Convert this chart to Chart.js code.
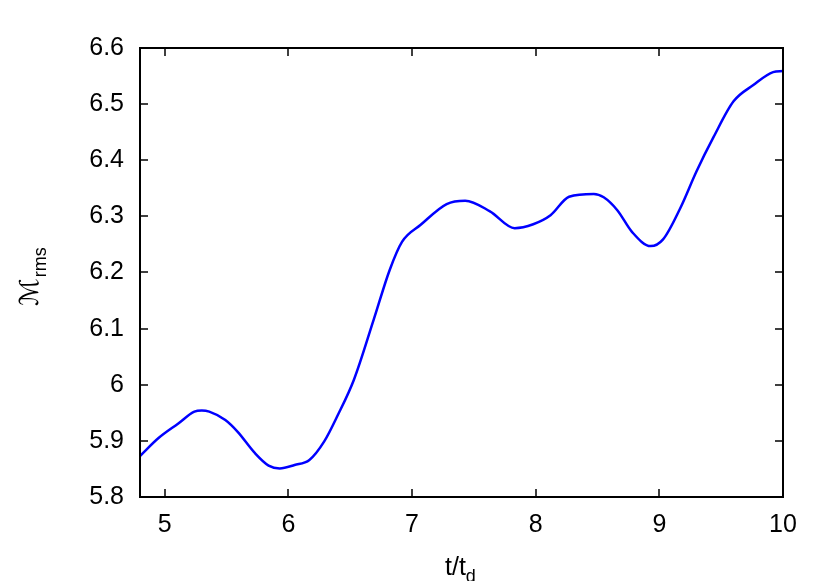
<!DOCTYPE html>
<html>
<head>
<meta charset="utf-8">
<script src="https://cdn.jsdelivr.net/npm/chart.js@4"></script>
<style>
  html, body { margin:0; padding:0; background:#fff; }
  #wrap { width:830px; height:581px; }
</style>
</head>
<body>
<div id="wrap"><canvas id="machChart" width="830" height="581"></canvas></div>
<script>
// t / t_d
const tValues = [4.80, 4.95, 5.11, 5.24, 5.30, 5.36, 5.49, 5.59, 5.73, 5.84, 5.93, 6.05, 6.17, 6.29, 6.40,
  6.53, 6.69, 6.82, 6.92, 7.07, 7.28, 7.43, 7.63, 7.83, 7.98, 8.12, 8.27, 8.47, 8.55, 8.66,
  8.78, 8.93, 9.03, 9.17, 9.30, 9.44, 9.60, 9.76, 9.92, 10.0];
// M_rms
const machRms = [5.873, 5.905, 5.931, 5.952, 5.954, 5.952, 5.937, 5.916, 5.878, 5.856, 5.851, 5.857, 5.866, 5.899, 5.946,
  6.009, 6.116, 6.205, 6.255, 6.285, 6.322, 6.328, 6.309, 6.279, 6.286, 6.302, 6.335, 6.340, 6.334, 6.311,
  6.272, 6.247, 6.259, 6.315, 6.380, 6.442, 6.505, 6.534, 6.557, 6.559];
const xTicks = [5, 6, 7, 8, 9, 10];
const yTicks = [5.8, 5.9, 6.0, 6.1, 6.2, 6.3, 6.4, 6.5, 6.6];

const FONT = "'Liberation Sans', Arial, sans-serif";

// gnuplot style frame: box + inward ticks on all four sides, plus titles with subscripts
const framePlugin = {
  id: 'frame',
  afterDraw(chart) {
    const { ctx, chartArea: a, scales } = chart;
    const len = 8;
    ctx.save();
    ctx.strokeStyle = '#000';
    ctx.lineWidth = 1.5;
    ctx.beginPath();
    xTicks.forEach(v => {
      const px = Math.round(scales.x.getPixelForValue(v));
      ctx.moveTo(px, a.bottom); ctx.lineTo(px, a.bottom - len);
      ctx.moveTo(px, a.top); ctx.lineTo(px, a.top + len);
    });
    yTicks.forEach(v => {
      const py = Math.round(scales.y.getPixelForValue(v));
      ctx.moveTo(a.left, py); ctx.lineTo(a.left + len, py);
      ctx.moveTo(a.right, py); ctx.lineTo(a.right - len, py);
    });
    ctx.stroke();
    ctx.lineWidth = 2;
    ctx.strokeRect(a.left, a.top, a.right - a.left, a.bottom - a.top);

    // x title: t/t_d
    ctx.fillStyle = '#000';
    ctx.textBaseline = 'alphabetic';
    ctx.textAlign = 'left';
    ctx.font = '25px ' + FONT;
    const xMain = 't/t';
    ctx.fillText(xMain, 445, 575);
    const w = ctx.measureText(xMain).width;
    ctx.font = '18px ' + FONT;
    ctx.fillText('d', 445 + w, 582);

    // y title: M_rms, rotated
    ctx.translate(38, 306);
    ctx.rotate(-Math.PI / 2);
    ctx.font = "italic 26px 'DejaVu Sans', sans-serif";
    ctx.fillText('\u2133', 0, 0);
    const mw = ctx.measureText('\u2133').width;
    ctx.font = '18px ' + FONT;
    ctx.fillText('rms', mw + 1, 8);
    ctx.restore();
  }
};

new Chart(document.getElementById('machChart'), {
  type: 'line',
  data: {
    datasets: [{
      data: tValues.map((t, i) => ({ x: t, y: machRms[i] })),
      borderColor: '#0000ff',
      borderWidth: 2.5,
      pointRadius: 0,
      fill: false,
      cubicInterpolationMode: 'monotone'
    }]
  },
  options: {
    responsive: false,
    animation: false,
    layout: { padding: { top: 48, right: 47, left: 0, bottom: 0 } },
    plugins: { legend: { display: false }, tooltip: { enabled: false } },
    scales: {
      x: {
        type: 'linear', min: 4.8, max: 10,
        afterBuildTicks: s => { s.ticks = xTicks.map(v => ({ value: v })); },
        afterFit: s => { s.height = 84; },
        grid: { display: false, drawTicks: false },
        border: { display: false },
        ticks: { color: '#000', padding: 13, font: { family: FONT, size: 25 }, callback: v => String(v) }
      },
      y: {
        type: 'linear', min: 5.8, max: 6.6,
        afterBuildTicks: s => { s.ticks = yTicks.map(v => ({ value: v })); },
        afterFit: s => { s.width = 140; },
        grid: { display: false, drawTicks: false },
        border: { display: false },
        ticks: { color: '#000', padding: 16, font: { family: FONT, size: 25 }, callback: v => String(+v.toFixed(1)) }
      }
    }
  },
  plugins: [framePlugin]
});
</script>
</body>
</html>
